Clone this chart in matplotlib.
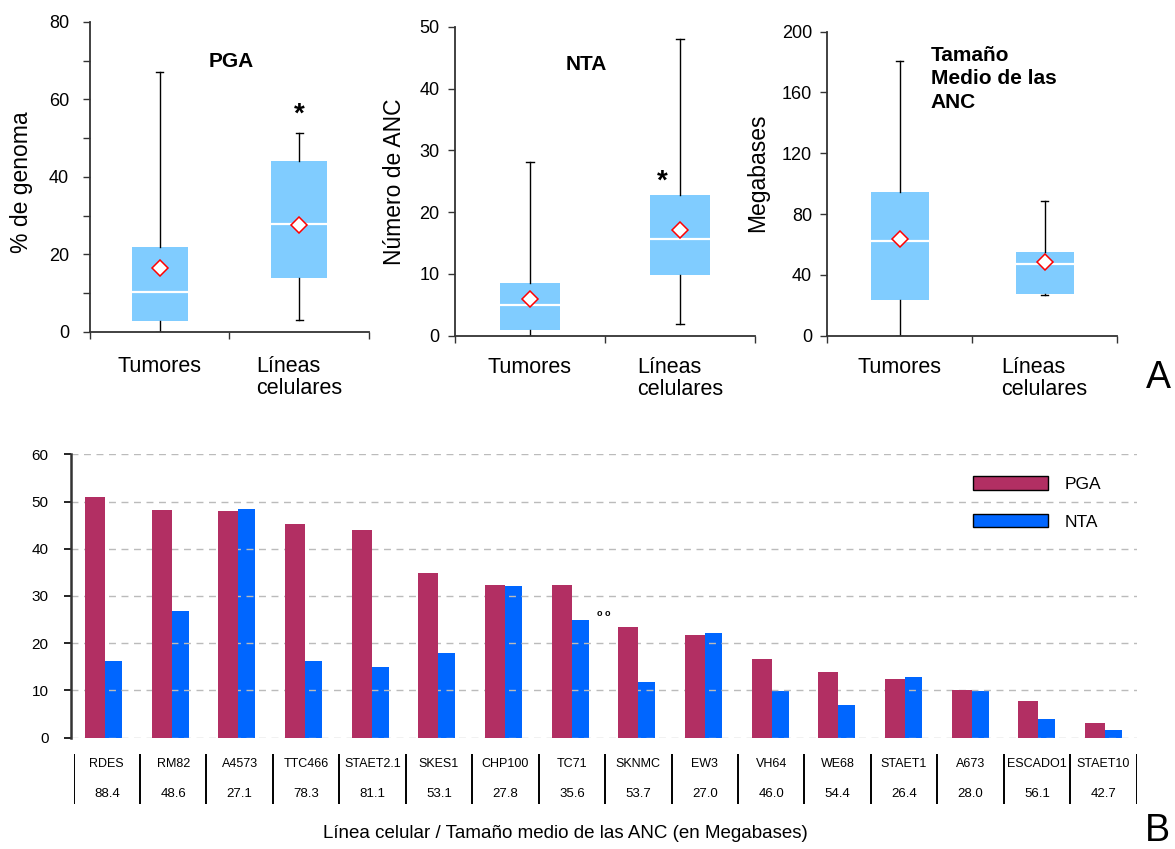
import numpy as np
import matplotlib.pyplot as plt
from matplotlib.ticker import MultipleLocator

plt.rcParams['font.family'] = ['Liberation Sans', 'DejaVu Sans']

categories = ['Tumores', 'Líneas\ncelulares']

# box values: lower whisker, q1, median, q3, upper whisker, mean
pgaTumores = [0.0, 2.7, 10.2, 21.9, 67.2, 16.5]
pgaLineas = [3.0, 13.8, 27.9, 44.1, 51.3, 27.6]
ntaTumores = [0.0, 0.9, 5.0, 8.5, 28.1, 5.9]
ntaLineas = [1.95, 9.9, 15.6, 22.8, 48.0, 17.2]
sizeTumores = [0.0, 23.7, 62.5, 94.3, 180.7, 63.8]
sizeLineas = [26.6, 27.6, 47.4, 54.8, 88.6, 48.5]

cellLines = ['RDES', 'RM82', 'A4573', 'TTC466', 'STAET2.1', 'SKES1', 'CHP100', 'TC71',
             'SKNMC', 'EW3', 'VH64', 'WE68', 'STAET1', 'A673', 'ESCADO1', 'STAET10']
pgaValues = [51.0, 48.2, 48.0, 45.3, 44.0, 34.9, 32.4, 32.4,
             23.4, 21.7, 16.7, 13.9, 12.4, 10.1, 7.8, 3.1]
ntaValues = [16.3, 26.8, 48.4, 16.3, 15.0, 17.9, 32.1, 24.9,
             11.8, 22.2, 9.9, 6.9, 12.9, 9.9, 4.0, 1.6]
meanSizes = ['88.4', '48.6', '27.1', '78.3', '81.1', '53.1', '27.8', '35.6',
             '53.7', '27.0', '46.0', '54.4', '26.4', '28.0', '56.1', '42.7']

boxColor = '#80CCFF'
pgaColor = '#B22F63'
ntaColor = '#0066FF'
axisColor = '#333333'


def toStats(values):
    lo, q1, med, q3, hi, mean = values
    return dict(whislo=lo, q1=q1, med=med, q3=q3, whishi=hi, mean=mean, fliers=[])


def boxPanel(ax, tumores, lineas, ylim, step, ylabel, labelX, labelY,
             pad, catPad, minor=None):
    ax.bxp([toStats(tumores), toStats(lineas)], positions=[1, 2], widths=0.4,
           capwidths=0.05, patch_artist=True, showmeans=True, manage_ticks=False,
           boxprops=dict(facecolor=boxColor, edgecolor='none'),
           medianprops=dict(color='white', linewidth=1.6),
           whiskerprops=dict(color='black', linewidth=1),
           capprops=dict(color='black', linewidth=1),
           meanprops=dict(marker='D', markerfacecolor='white',
                          markeredgecolor='red', markersize=8,
                          markeredgewidth=1.1))
    ax.set_xlim(0.5, 2.5)
    ax.set_ylim(*ylim)
    ax.yaxis.set_major_locator(MultipleLocator(step))
    if minor:
        ax.yaxis.set_minor_locator(MultipleLocator(minor))
        ax.tick_params(axis='y', which='minor', length=5, width=1, color=axisColor)
    ax.set_xticks([0.5, 1.5, 2.5])
    ax.set_xticklabels([])
    ax.set_xticks([1, 2], minor=True)
    ax.set_xticklabels(categories, minor=True, fontsize=15.5, multialignment='left',
                       linespacing=1.1)
    ax.tick_params(axis='x', which='minor', length=0, pad=catPad)
    ax.tick_params(axis='x', which='major', length=5, width=1, color=axisColor)
    ax.tick_params(axis='y', which='major', length=5, width=1, color=axisColor,
                   labelsize=13, pad=pad)
    for side in ['top', 'right']:
        ax.spines[side].set_visible(False)
    for side in ['left', 'bottom']:
        ax.spines[side].set_color(axisColor)
        ax.spines[side].set_linewidth(1.3)
    ax.set_ylabel(ylabel, fontsize=16.5, va='center')
    ax.yaxis.set_label_coords(labelX, labelY)


fig = plt.figure(figsize=(11.75, 8.49), dpi=100)

ax1 = fig.add_axes([0.0766, 0.6090, 0.2374, 0.3651])
boxPanel(ax1, pgaTumores, pgaLineas, (0, 80), 20, '% de genoma', -0.245, 0.484,
         pad=10, catPad=17, minor=10)
ax1.text(0.505, 69.7, 'PGA', transform=ax1.get_yaxis_transform(),
         ha='center', va='center', fontsize=15, fontweight='bold')
ax1.text(2, 56.0, '*', ha='center', va='center', fontsize=20, fontweight='bold')

ax2 = fig.add_axes([0.3872, 0.6046, 0.2553, 0.3636])
boxPanel(ax2, ntaTumores, ntaLineas, (0, 50), 10, 'Número de ANC', -0.2, 0.498,
         pad=6, catPad=15)
ax2.text(0.437, 43.9, 'NTA', transform=ax2.get_yaxis_transform(),
         ha='center', va='center', fontsize=15, fontweight='bold')
ax2.text(1.88, 25.0, '*', ha='center', va='center', fontsize=20, fontweight='bold')

ax3 = fig.add_axes([0.7041, 0.6046, 0.2466, 0.3581])
boxPanel(ax3, sizeTumores, sizeLineas, (0, 200), 40, 'Megabases', -0.239, 0.535,
         pad=6, catPad=15)
ax3.text(0.357, 169, 'Tamaño\nMedio de las\nANC', transform=ax3.get_yaxis_transform(),
         ha='left', va='center', fontsize=15, fontweight='bold', linespacing=1.3)

fig.text(1158 / 1175, 1 - 378 / 849, 'A', ha='center', va='center', fontsize=27)

# bottom bar chart
axB = fig.add_axes([0.0602, 0.1311, 0.9075, 0.3338])
x = np.arange(len(cellLines))
pgaWidth = 0.3
ntaWidth = 0.255
axB.bar(x - pgaWidth, pgaValues, pgaWidth, align='edge', color=pgaColor,
        label='PGA', zorder=2)
axB.bar(x, ntaValues, ntaWidth, align='edge', color=ntaColor,
        label='NTA', zorder=1)
axB.set_xlim(-0.514, 15.48)
axB.set_ylim(0, 60)
axB.yaxis.set_major_locator(MultipleLocator(10))
axB.set_axisbelow('line')
axB.yaxis.grid(True, linestyle=(0, (5, 4)), color='#BBBBBB', linewidth=1)
axB.set_xticks([])
axB.tick_params(axis='y', length=5, width=1.2, color='black', labelsize=11, pad=11)
for side in ['top', 'right', 'bottom']:
    axB.spines[side].set_visible(False)
axB.spines['left'].set_color(axisColor)
axB.spines['left'].set_linewidth(1.8)
axB.text(7.48, 26.2, 'o o', ha='center', va='center', fontsize=6.5, fontweight='bold')

leg = axB.legend(loc='upper left', bbox_to_anchor=(973 / 1175, 1 - 476 / 849),
                 bbox_transform=fig.transFigure, frameon=False, fontsize=12.5,
                 handlelength=4.3, handleheight=0.85, handletextpad=1.0,
                 labelspacing=1.25, borderpad=0, borderaxespad=0)
for h in leg.legend_handles:
    h.set_edgecolor('black')
    h.set_linewidth(1)

# table of cell lines and mean sizes
axT = fig.add_axes([0.0626, 0.0530, 0.9047, 0.0589])
axT.set_xlim(0, len(cellLines))
axT.set_ylim(0, 1)
axT.axis('off')
axT.vlines(np.arange(len(cellLines) + 1), 0, 1, color='black', linewidth=1.4)
for i, (name, size) in enumerate(zip(cellLines, meanSizes)):
    axT.text(i + 0.5, 0.8, name, ha='center', va='center', fontsize=9)
    axT.text(i + 0.5, 0.2, size, ha='center', va='center', fontsize=9.5)

fig.text(565 / 1175, 1 - 833 / 849,
         'Línea celular / Tamaño medio de las ANC (en Megabases)',
         ha='center', va='center', fontsize=13.5)
fig.text(1157 / 1175, 1 - 831 / 849, 'B', ha='center', va='center', fontsize=27)

fig.savefig('out.png', dpi=100)
